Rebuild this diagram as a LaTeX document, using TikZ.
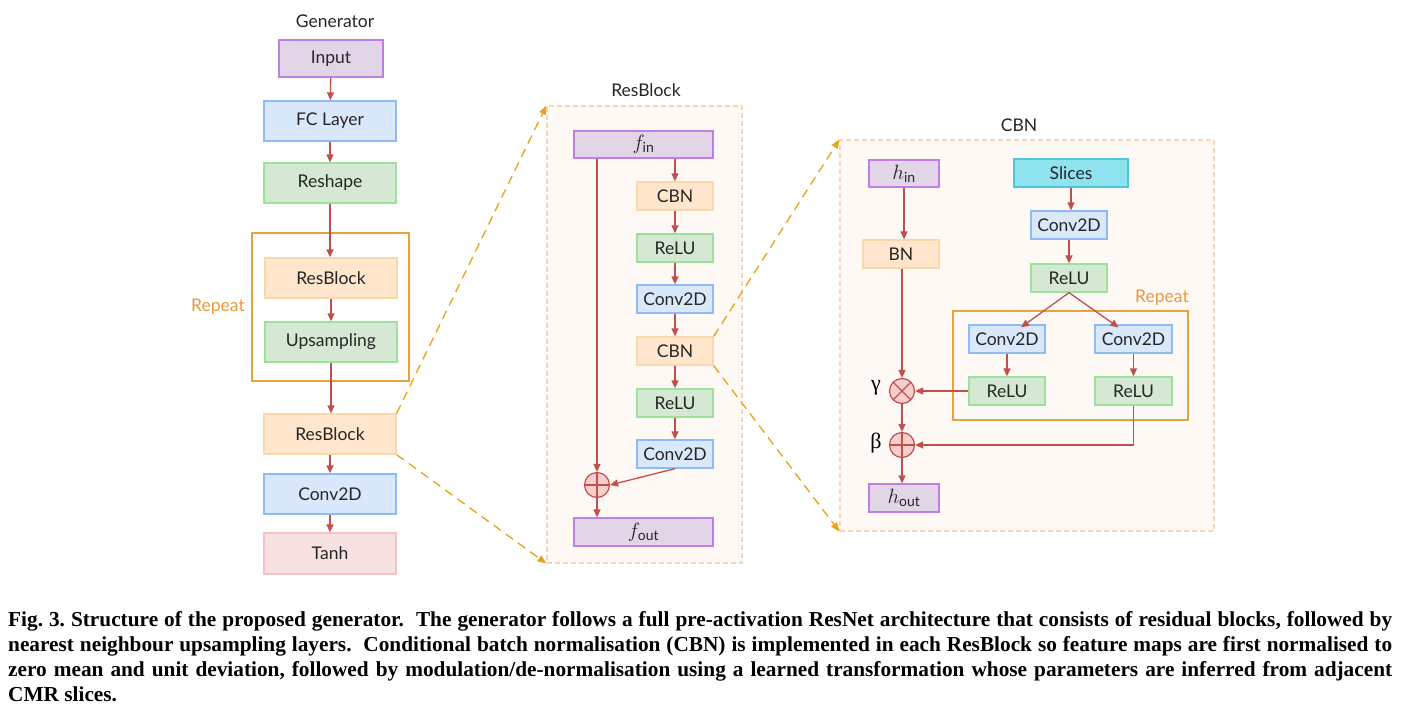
\documentclass[tikz,border=0pt]{standalone}
\usepackage{amsmath}
\usepackage{fontspec}
\setmainfont{Lato}
\newfontfamily\capfont{Liberation Serif}
\newfontfamily\grkfont{Liberation Serif}
\usetikzlibrary{arrows.meta}
\definecolor{arrowc}{HTML}{C0504D}
\definecolor{purpf}{HTML}{E1D5E7}
\definecolor{purpd}{HTML}{C07FE6}
\definecolor{bluef}{HTML}{DAE8FC}
\definecolor{blued}{HTML}{8DBBF7}
\definecolor{greenf}{HTML}{D5E8D4}
\definecolor{greend}{HTML}{9BE29A}
\definecolor{orf}{HTML}{FFE6CC}
\definecolor{ord}{HTML}{FAD7AC}
\definecolor{redf}{HTML}{F8E1E1}
\definecolor{redd}{HTML}{F5C2C2}
\definecolor{cyanf}{HTML}{8EE3EF}
\definecolor{cyand}{HTML}{4FC6D6}
\definecolor{repc}{HTML}{E6A23C}
\definecolor{reptext}{HTML}{E39B3F}
\definecolor{panelf}{HTML}{FFF9F5}
\definecolor{paneld}{HTML}{F8D5B5}
\definecolor{dashc}{HTML}{E8A317}
\definecolor{circf}{HTML}{F8CECC}
\tikzset{
  lbl/.style={font=\fontsize{17.5}{20}\selectfont, text=black!85, inner sep=0pt},
  bx/.style={draw, line width=1.3pt, inner sep=0pt, font=\fontsize{17.5}{20}\selectfont, text=black!85},
  purp/.style={bx, fill=purpf, draw=purpd},
  blu/.style={bx, fill=bluef, draw=blued},
  grn/.style={bx, fill=greenf, draw=greend},
  org/.style={bx, fill=orf, draw=ord},
  rd/.style={bx, fill=redf, draw=redd},
  cyn/.style={bx, fill=cyanf, draw=cyand},
  repbox/.style={draw=repc, line width=1.3pt, inner sep=0pt},
  reptxt/.style={text=reptext, font=\fontsize{17.5}{20}\selectfont, inner sep=0pt},
  panel/.style={draw=paneld, fill=panelf, dashed, dash pattern=on 5pt off 3pt, line width=1.1pt, inner sep=0pt},
  arr/.style={draw=arrowc, line width=1.3pt, -{Triangle[length=8pt,width=7pt]}},
  dsh/.style={draw=dashc, line width=1.3pt, dash pattern=on 9pt off 6pt, -{Triangle[length=9pt,width=7pt]}},
  opcirc/.style={circle, draw=arrowc, fill=circf, line width=1.2pt, minimum size=25pt, inner sep=0pt},
  oplusc/.style={opcirc, path picture={\draw[arrowc, line width=1.2pt]
     (path picture bounding box.north) -- (path picture bounding box.south)
     (path picture bounding box.west) -- (path picture bounding box.east);}},
  otimesc/.style={opcirc, path picture={\draw[arrowc, line width=1.2pt]
     (path picture bounding box.north west) -- (path picture bounding box.south east)
     (path picture bounding box.north east) -- (path picture bounding box.south west);}},
  mth/.style={font=\fontsize{20}{22}\selectfont},
}
\begin{document}
\begin{tikzpicture}[x=1pt,y=-1pt]
\useasboundingbox (0,0) rectangle (1402,720);
\fill[white] (0,0) rectangle (1402,720);

% ---------- Generator column ----------
\node[lbl] (genlbl) at (335,21) {Generator};
\node[repbox, minimum width=157pt, minimum height=148pt] (repA) at (330.5,307) {};
\node[reptxt] (repAl) at (218,307) {Repeat};
\node[purp, minimum width=104pt, minimum height=37pt] (inp) at (331,58.5) {Input};
\node[blu, minimum width=132pt, minimum height=40pt] (fc) at (330,121) {FC Layer};
\node[grn, minimum width=132pt, minimum height=40pt] (resh) at (330,183) {Reshape};
\node[org, minimum width=132pt, minimum height=40pt] (rb1) at (331,278) {ResBlock};
\node[grn, minimum width=132pt, minimum height=40pt] (ups) at (331,342) {Upsampling};
\node[org, minimum width=132pt, minimum height=40pt] (rb2) at (330,434) {ResBlock};
\node[blu, minimum width=132pt, minimum height=40pt] (gconv) at (330,494) {Conv2D};
\node[rd, minimum width=132pt, minimum height=41pt] (tanh) at (330,553.5) {Tanh};

\draw[arr] (inp) -- (fc);
\draw[arr] (fc) -- (resh);
\draw[arr] (resh) -- (resh.south |- rb1.north);
\draw[arr] (rb1) -- (rb1.south |- ups.north);
\draw[arr] (ups) -- (ups.south |- rb2.north);
\draw[arr] (rb2) -- (gconv);
\draw[arr] (gconv) -- (tanh);

% ---------- ResBlock panel ----------
\node[lbl] (rblbl) at (646,90) {ResBlock};
\node[panel, minimum width=195pt, minimum height=457pt] (prb) at (644.5,334.5) {};
\node[purp, mth, minimum width=139pt, minimum height=27pt] (fin) at (643.5,144.5) {$f_{\text{in}}$};
\node[org, minimum width=76pt, minimum height=28pt] (cbn1) at (675,196) {CBN};
\node[grn, minimum width=76pt, minimum height=28pt] (relu1) at (675,248) {ReLU};
\node[blu, minimum width=76pt, minimum height=28pt] (conv1) at (675,299) {Conv2D};
\node[org, minimum width=76pt, minimum height=28pt] (cbn2) at (675,351) {CBN};
\node[grn, minimum width=76pt, minimum height=28pt] (relu2) at (675,403) {ReLU};
\node[blu, minimum width=76pt, minimum height=28pt] (conv2) at (675,454) {Conv2D};
\node[oplusc] (plus1) at (597,485) {};
\node[purp, mth, minimum width=139pt, minimum height=28pt] (fout) at (643.5,532) {$f_{\text{out}}$};

\draw[arr] (fin.south -| cbn1) -- (cbn1);
\draw[arr] (cbn1) -- (relu1);
\draw[arr] (relu1) -- (conv1);
\draw[arr] (conv1) -- (cbn2);
\draw[arr] (cbn2) -- (relu2);
\draw[arr] (relu2) -- (conv2);
\draw[arr] (fin.south -| plus1) -- (plus1.north);
\draw[arr] (conv2.south) -- (plus1.east);
\draw[arr] (plus1.south) -- (plus1.south |- fout.north);

% ---------- CBN panel ----------
\node[lbl] (cbnlbl) at (1019,125) {CBN};
\node[panel, minimum width=374pt, minimum height=391pt] (pcbn) at (1027,335.5) {};
\node[repbox, minimum width=235pt, minimum height=109pt] (repB) at (1070.5,365.5) {};
\node[reptxt] (repBl) at (1162,298) {Repeat};
\node[purp, mth, minimum width=70pt, minimum height=27pt] (hin) at (904,173.5) {$h_{\text{in}}$};
\node[org, minimum width=76pt, minimum height=28pt] (bn) at (901,254) {BN};
\node[cyn, minimum width=114pt, minimum height=28pt] (slices) at (1071,173) {Slices};
\node[blu, minimum width=76pt, minimum height=28pt] (cconv) at (1069,225) {Conv2D};
\node[grn, minimum width=76pt, minimum height=28pt] (crelu) at (1069,278) {ReLU};
\node[blu, minimum width=76pt, minimum height=28pt] (convL) at (1007,339) {Conv2D};
\node[blu, minimum width=77pt, minimum height=28pt] (convR) at (1133.5,339) {Conv2D};
\node[grn, minimum width=76pt, minimum height=28pt] (reluL) at (1007,391) {ReLU};
\node[grn, minimum width=77pt, minimum height=28pt] (reluR) at (1133.5,391) {ReLU};
\node[otimesc] (times) at (902,391) {};
\node[oplusc] (plus2) at (902,445) {};
\node[inner sep=0pt, font=\grkfont\fontsize{22}{24}\selectfont] (gam) at (876,388) {γ};
\node[inner sep=0pt, font=\grkfont\fontsize{22}{24}\selectfont] (bet) at (876,443) {β};
\node[purp, mth, minimum width=70pt, minimum height=28pt] (hout) at (904,498) {$h_{\text{out}}$};

\draw[arr] (hin) -- (hin.south |- bn.north);
\draw[arr] (bn.south -| times) -- (times.north);
\draw[arr] (times) -- (plus2);
\draw[arr] (plus2.south) -- (plus2.south |- hout.north);
\draw[arr] (slices) -- (slices.south |- cconv.north);
\draw[arr] (cconv) -- (crelu);
\draw[arr] (crelu.south) -- ([xshift=14pt,yshift=-3pt]convL.north);
\draw[arr] (crelu.south) -- ([xshift=-15pt,yshift=-3pt]convR.north);
\draw[arr] (convL) -- (reluL);
\draw[arr] (convR) -- (reluR);
\draw[arr] (reluL.west) -- (times.east);
\draw[arr] (reluR.south) |- (plus2.east);

% ---------- zoom connectors ----------
\draw[dsh] (rb2.north east) -- (prb.north west);
\draw[dsh] (rb2.south east) -- (prb.south west);
\draw[dsh] (cbn2.north east) -- (pcbn.north west);
\draw[dsh] (cbn2.south east) -- (pcbn.south west);

% ---------- caption ----------
\node[anchor=north west, inner sep=0pt, text width=1384pt, align=justify,
      font=\capfont\bfseries\fontsize{21.3}{25}\selectfont\frenchspacing] (cap) at (8,611)
{Fig. 3. Structure of the proposed generator.\ \ The generator follows a full pre-activation ResNet architecture that consists of residual blocks, followed by\linebreak
nearest neighbour upsampling layers.\ \ Conditional batch normalisation (CBN) is implemented in each ResBlock so feature maps are first normalised to\linebreak
zero mean and unit deviation, followed by modulation/de-normalisation using a learned transformation whose parameters are inferred from adjacent\linebreak
CMR slices.};
\end{tikzpicture}
\end{document}
